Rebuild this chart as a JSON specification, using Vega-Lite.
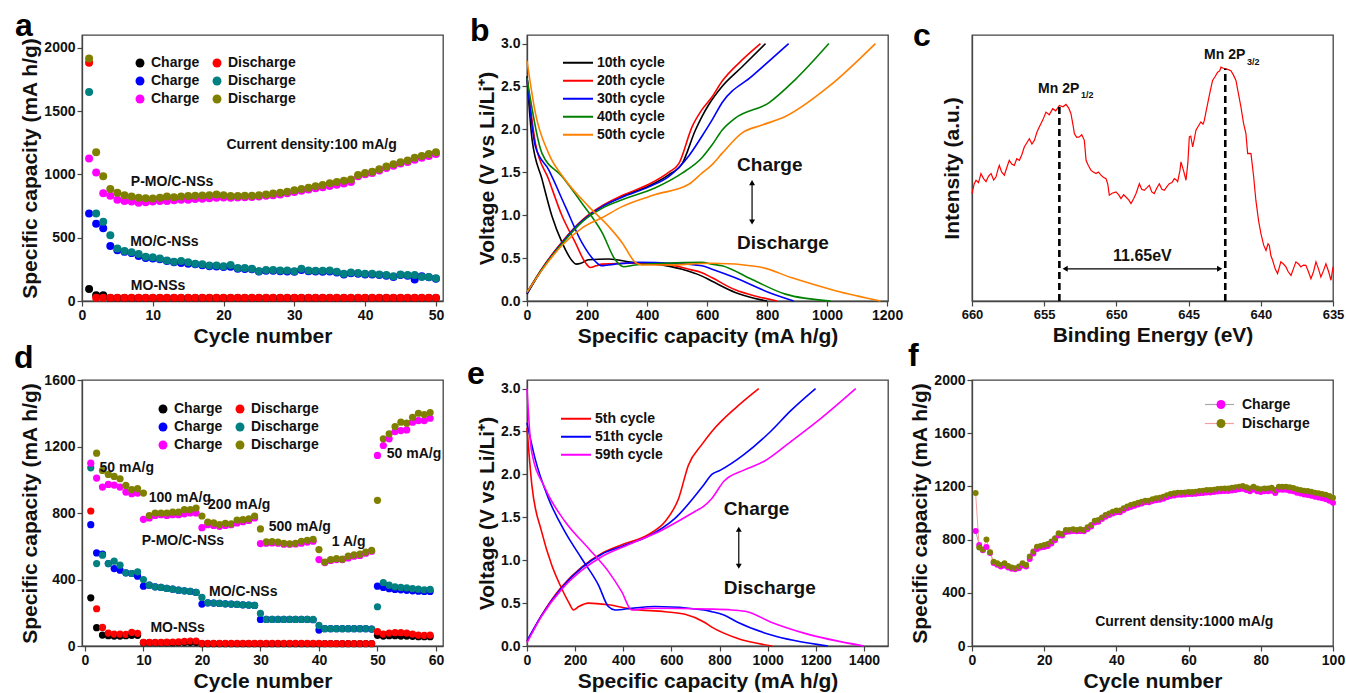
{
  "$schema": "https://vega.github.io/schema/vega-lite/v6.json",
  "background": "white",
  "padding": {"left": 13, "top": 9, "right": 5, "bottom": 0},
  "columns": 3,
  "spacing": {"row": 79, "column": 84},
  "bounds": "flush",
  "resolve": {"scale": {"color": "independent", "fill": "independent", "stroke": "independent", "shape": "independent"}, "legend": {"color": "independent", "fill": "independent", "stroke": "independent"}},
  "datasets": {
    "capA": [{
      "cyc": [1,2,3,4,5,6,7,8,9,10,11,12,13,14,15,16,17,18,19,20,21,22,23,24,25,26,27,28,29,30,31,32,33,34,35,36,37,38,39,40,41,42,43,44,45,46,47,48,49,50],
      "mo_c": [95,45,45,24,24,24,24,24,24,24,24,24,24,24,24,24,24,24,24,24,24,24,24,24,24,24,24,24,24,24,24,24,24,24,24,24,24,24,24,24,24,24,24,24,24,24,24,24,24,24],
      "mo_d": [1880,25,25,25,25,25,25,25,25,25,25,25,25,25,25,25,25,25,25,25,25,25,25,25,25,25,25,25,25,25,25,25,25,25,25,25,25,25,25,25,25,25,25,25,25,25,25,25,25,25],
      "moc_c": [690,610,575,435,400,388,378,355,340,335,330,315,305,300,295,290,282,275,272,268,270,255,252,250,232,238,238,235,232,230,245,235,232,230,232,225,210,220,215,210,210,205,200,190,205,200,170,195,188,175],
      "moc_d": [1650,690,625,520,415,395,385,372,350,345,335,320,310,315,305,295,290,280,280,275,285,260,260,255,235,245,245,240,240,235,255,240,238,238,240,230,215,225,222,215,215,210,205,195,210,205,205,190,190,180],
      "pmo_c": [1125,1015,850,830,800,790,785,775,780,785,790,790,795,800,800,805,808,812,815,818,815,818,820,822,825,830,835,840,850,860,870,880,890,898,908,918,928,940,985,1000,1010,1030,1050,1068,1085,1098,1115,1130,1145,1160],
      "pmo_d": [1915,1175,985,885,855,835,825,815,812,810,815,825,820,825,828,830,832,835,840,835,828,828,830,830,835,840,848,855,862,875,885,895,905,915,930,940,950,960,995,1010,1020,1040,1062,1080,1095,1110,1130,1145,1160,1175]
    }],
    "capD": [{
      "cyc": [1,2,3,4,5,6,7,8,9,10,11,12,13,14,15,16,17,18,19,20,21,22,23,24,25,26,27,28,29,30,31,32,33,34,35,36,37,38,39,40,41,42,43,44,45,46,47,48,49,50,51,52,53,54,55,56,57,58,59],
      "mo_c": [290,110,66,62,60,60,62,64,64,20,20,20,20,20,20,21,22,22,22,14,14,14,14,14,14,14,14,14,14,14,14,14,14,14,14,14,14,14,14,14,14,14,14,14,14,14,14,14,14,64,60,62,62,60,60,58,56,56,56],
      "mo_d": [812,224,112,78,72,72,70,82,76,22,22,22,22,23,24,25,28,30,30,16,16,16,16,16,16,16,16,16,16,16,16,16,16,16,16,16,16,16,16,16,15,15,15,15,15,15,15,15,15,86,72,78,80,80,78,72,66,64,66],
      "moc_c": [730,560,552,496,466,456,440,436,420,360,366,356,352,346,342,336,332,328,322,252,260,258,256,254,252,250,248,246,244,160,160,160,160,160,160,160,160,160,158,96,104,104,104,104,104,104,104,104,102,360,352,345,340,338,335,332,330,328,328],
      "moc_d": [1072,496,546,496,510,486,440,436,446,400,366,356,352,346,342,336,332,328,322,292,260,258,256,254,252,250,248,246,244,196,160,160,160,160,160,160,160,160,160,124,104,104,104,104,104,104,104,104,102,236,382,366,356,352,350,345,342,338,340],
      "pmo_c": [1100,1010,956,972,968,956,926,916,920,762,770,785,790,785,790,790,795,800,800,712,730,725,720,725,730,740,748,755,770,616,618,620,618,612,612,614,618,625,630,520,502,515,520,520,530,540,545,558,570,1146,1206,1246,1290,1296,1300,1346,1356,1356,1370],
      "pmo_d": [null,1160,1056,1032,1020,1006,966,940,946,920,785,800,800,800,805,805,820,820,830,782,745,740,730,738,735,758,760,765,782,704,626,628,625,618,615,618,630,636,642,580,505,520,525,522,540,548,552,565,575,876,1246,1276,1320,1346,1340,1376,1400,1392,1404]
    }],
    "capF": [{
      "cyc": [1,2,3,4,5,6,7,8,9,10,11,12,13,14,15,16,17,18,19,20,21,22,23,24,25,26,27,28,29,30,31,32,33,34,35,36,37,38,39,40,41,42,43,44,45,46,47,48,49,50,51,52,53,54,55,56,57,58,59,60,61,62,63,64,65,66,67,68,69,70,71,72,73,74,75,76,77,78,79,80,81,82,83,84,85,86,87,88,89,90,91,92,93,94,95,96,97,98,99,100],
      "ch": [865,760,720,745,700,625,610,598,605,590,580,578,585,605,598,655,695,730,740,745,752,770,795,830,830,858,860,865,862,865,862,880,898,928,935,955,972,985,997,1005,1005,1022,1035,1046,1055,1064,1072,1080,1080,1090,1096,1100,1108,1118,1127,1132,1137,1137,1139,1142,1142,1144,1148,1151,1155,1155,1157,1162,1164,1166,1166,1170,1173,1178,1182,1172,1164,1176,1164,1157,1163,1163,1168,1150,1174,1174,1174,1168,1163,1152,1146,1140,1136,1130,1122,1116,1110,1104,1093,1078],
      "dis": [1150,740,725,800,705,634,622,609,622,602,590,585,597,622,609,672,710,747,752,760,767,785,810,847,842,872,872,877,872,877,872,892,910,942,947,967,985,997,1010,1018,1018,1035,1048,1060,1068,1078,1085,1093,1093,1103,1110,1115,1123,1133,1143,1148,1153,1153,1155,1158,1158,1160,1165,1168,1173,1173,1175,1180,1183,1185,1185,1190,1193,1198,1203,1193,1185,1198,1185,1178,1185,1185,1190,1173,1198,1198,1198,1193,1188,1178,1173,1168,1165,1160,1153,1148,1143,1138,1128,1115]
    }],
    "vb": [
      {"c":"10th cycle","b":"d","x":[0,17,50,83,117,150,163,180,205,272,350,428,517,583,617,694,760,800],"y":[2.62,1.88,1.42,0.99,0.68,0.47,0.43,0.44,0.48,0.49,0.45,0.43,0.37,0.29,0.23,0.1,0.03,0]},
      {"c":"10th cycle","b":"c","x":[0,50,117,183,250,317,406,472,517,561,583,606,650,717,795],"y":[0.08,0.37,0.68,0.93,1.1,1.22,1.34,1.47,1.6,1.99,2.15,2.29,2.5,2.73,3.0]},
      {"c":"20th cycle","b":"d","x":[0,28,72,117,161,194,211,230,250,350,461,539,583,617,694,770,833],"y":[2.6,1.84,1.42,0.99,0.68,0.45,0.39,0.41,0.43,0.44,0.43,0.37,0.33,0.27,0.13,0.05,0]},
      {"c":"20th cycle","b":"c","x":[0,50,117,183,250,317,406,472,506,550,583,617,650,717,778],"y":[0.1,0.38,0.69,0.94,1.11,1.23,1.36,1.5,1.6,2.03,2.23,2.38,2.56,2.81,3.0]},
      {"c":"30th cycle","b":"d","x":[0,28,72,128,183,228,250,270,294,372,483,583,617,694,806,889],"y":[2.6,1.8,1.53,1.1,0.68,0.46,0.41,0.42,0.43,0.45,0.44,0.41,0.37,0.27,0.1,0]},
      {"c":"30th cycle","b":"c","x":[0,50,117,183,250,317,406,472,539,583,617,650,750,872],"y":[0.09,0.37,0.68,0.93,1.1,1.21,1.33,1.45,1.69,1.92,2.11,2.31,2.62,3.0]},
      {"c":"40th cycle","b":"d","x":[0,50,117,183,250,294,322,361,461,583,617,650,750,861,1012],"y":[2.6,1.72,1.45,1.14,0.8,0.48,0.4,0.42,0.44,0.45,0.43,0.41,0.25,0.08,0]},
      {"c":"40th cycle","b":"c","x":[0,50,117,183,250,317,428,517,583,617,650,694,806,894,1006],"y":[0.1,0.37,0.67,0.92,1.08,1.18,1.32,1.49,1.67,1.82,1.99,2.13,2.31,2.58,3.0]},
      {"c":"50th cycle","b":"d","x":[0,28,72,128,206,272,317,361,383,461,617,772,883,1028,1178],"y":[2.8,2.19,1.72,1.41,1.1,0.87,0.68,0.45,0.42,0.42,0.44,0.4,0.27,0.12,0]},
      {"c":"50th cycle","b":"c","x":[0,50,117,183,250,317,428,539,583,617,650,717,783,861,1006,1161],"y":[0.1,0.36,0.65,0.85,0.97,1.1,1.24,1.36,1.49,1.59,1.72,1.96,2.05,2.15,2.5,3.0]}
    ],
    "ve": [
      {"c":"5th cycle","b":"d","x":[0,20,61,103,144,175,193,215,255,338,435,574,657,735,768,873,1020],"y":[2.54,1.88,1.33,0.94,0.67,0.5,0.42,0.46,0.5,0.48,0.43,0.4,0.37,0.28,0.22,0.09,0]},
      {"c":"5th cycle","b":"c","x":[0,61,144,227,310,394,505,574,630,671,727,768,873,963],"y":[0.05,0.36,0.69,0.92,1.08,1.18,1.3,1.45,1.72,2.11,2.35,2.5,2.79,3.0]},
      {"c":"51th cycle","b":"d","x":[0,33,89,158,227,297,338,366,435,532,735,768,818,873,1012,1250],"y":[2.6,2.19,1.72,1.33,1.02,0.71,0.46,0.42,0.44,0.46,0.42,0.4,0.36,0.28,0.13,0]},
      {"c":"51th cycle","b":"c","x":[0,61,144,227,310,394,505,616,735,768,804,901,1012,1095,1199],"y":[0.06,0.36,0.68,0.91,1.07,1.16,1.28,1.49,1.88,2.0,2.05,2.23,2.5,2.74,3.0]},
      {"c":"59th cycle","b":"d","x":[0,19,75,158,255,338,394,435,505,768,850,915,1012,1151,1400],"y":[3.0,2.27,1.84,1.45,1.14,0.87,0.63,0.42,0.44,0.43,0.42,0.4,0.28,0.15,0]},
      {"c":"59th cycle","b":"c","x":[0,61,144,227,310,421,560,699,735,768,818,901,984,1095,1220,1366],"y":[0.04,0.35,0.66,0.88,1.04,1.18,1.35,1.57,1.63,1.72,1.92,2.05,2.15,2.38,2.65,3.0]}
    ],
    "xps": [{
      "be": [660,659.85,659.72,659.55,659.38,659.2,659.03,658.85,658.68,658.5,658.34,658.2,658.11,657.95,657.76,657.6,657.42,657.25,657.07,656.9,656.72,656.55,656.38,656.2,656.03,655.85,655.68,655.5,655.34,655.1,654.88,654.65,654.41,654.2,653.95,653.7,653.49,653.3,653.15,653,652.91,652.75,652.57,652.4,652.22,652.1,651.95,651.76,651.6,651.41,651.25,651.07,650.9,650.72,650.6,650.49,650.3,650.03,649.85,649.68,649.5,649.34,649.15,648.99,648.8,648.64,648.41,648.25,648.07,647.9,647.72,647.55,647.38,647.2,647.03,646.85,646.68,646.5,646.34,646.15,645.99,645.85,645.76,645.6,645.53,645.35,645.18,645.05,644.95,644.85,644.72,644.6,644.49,644.3,644.15,644,643.91,643.8,643.68,643.5,643.34,643.15,642.99,642.85,642.76,642.6,642.41,642.25,642.07,641.9,641.72,641.55,641.37,641.2,641.03,640.91,640.8,640.68,640.5,640.34,640.15,639.99,639.8,639.64,639.5,639.41,639.3,639.18,639,638.84,638.7,638.61,638.45,638.26,638.1,637.91,637.75,637.57,637.4,637.22,637.05,636.88,636.7,636.53,636.35,636.18,636,635.84,635.65,635.49,635.3,635.14,635],
      "i": [40.4,44,45.4,44.5,47.9,46,44.9,47,47.9,45.5,46.6,49.5,51,48.5,47.3,50,52.9,51.5,51,53.5,52.9,55,57.9,59.5,61,59,60.4,63.5,65.4,68,71,70,72.3,71.5,73.5,73,73.9,72.5,70.5,66,62.9,61.5,61.7,62.5,60.4,52.9,51,49.1,48.5,47.9,48.5,47.3,46.5,46,44,39.8,40.5,41,40,38.5,40,39.1,38,36.6,38.5,40.4,44.1,42,41.6,42.5,43.5,41,40.4,42.5,44.1,42,41.6,43,44.1,44.5,46,45.5,44.9,49,52.3,49,45.4,52,61.7,62,57.9,61,64.2,66,67.3,66.5,67.9,71,74.2,79,82.9,84.5,86,86.5,87.9,87.5,87.3,87,86.6,85,82.9,78,72.8,67,62.9,55.4,55.5,55.4,47,37.8,30,25.3,21,19,21.5,20.9,17,15.3,12,10.3,13,14.7,14,12.8,11,9.6,12,14.7,14,12.8,13.5,13.4,11,8.4,11,14.7,12,9,11.5,14,11,7.8,12.8]
    }]
  },
  "concat": [
    {
      "width": 361, "height": 266,
      "title": {"text": "a", "dx": -67, "offset": -8},
      "layer": [
        {
          "data": {"name": "capA"},
          "transform": [
            {"flatten": ["cyc","mo_c","mo_d","moc_c","moc_d","pmo_c","pmo_d"]},
            {"fold": ["mo_c","mo_d","moc_c","moc_d","pmo_c","pmo_d"], "as": ["s","v"]},
            {"filter": "isValid(datum.v)"}
          ],
          "mark": {"type": "point", "filled": true, "opacity": 1, "size": 64},
          "encoding": {
            "x": {"field": "cyc", "type": "quantitative", "scale": {"domain": [0, 51], "nice": false, "zero": false},
              "axis": {"title": "Cycle number", "values": [0,5,10,15,20,25,30,35,40,45,50], "labelExpr": "datum.value % 10 === 0 ? datum.label : ''", "tickSize": {"condition": {"test": "datum.value % 10 !== 0", "value": 3}, "value": 5}}},
            "y": {"field": "v", "type": "quantitative", "scale": {"domain": [0, 2100], "nice": false},
              "axis": {"title": "Specific capacity (mA h/g)", "format": "d", "values": [0,250,500,750,1000,1250,1500,1750,2000], "labelExpr": "datum.value % 500 === 0 ? datum.label : ''", "tickSize": {"condition": {"test": "datum.value % 500 !== 0", "value": 3}, "value": 5}}},
            "color": {"field": "s", "type": "nominal",
              "scale": {"domain": ["mo_c","moc_c","pmo_c","mo_d","moc_d","pmo_d"], "range": ["#000000","#0000ff","#ff00ff","#ff0000","#008080","#808000"]},
              "legend": {"title": null, "orient": "none", "legendX": 51, "legendY": 21, "columns": 2, "columnPadding": 10, "rowPadding": 4, "symbolType": "circle", "symbolSize": 80, "padding": 0,
                "labelExpr": "indexof(datum.value, '_c') >= 0 ? 'Charge' : 'Discharge'"}}
          }
        },
        {
          "data": {"values": [
            {"x": 20.4, "y": 1230, "t": "Current density:100 mA/g"},
            {"x": 6.9, "y": 939, "t": "P-MO/C-NSs"},
            {"x": 6.8, "y": 466, "t": "MO/C-NSs"},
            {"x": 6.9, "y": 118, "t": "MO-NSs"}
          ]},
          "mark": {"type": "text", "align": "left", "baseline": "middle"},
          "encoding": {"x": {"field": "x", "type": "quantitative"}, "y": {"field": "y", "type": "quantitative"}, "text": {"field": "t"}}
        }
      ]
    },
    {
      "width": 361, "height": 266,
      "title": {"text": "b", "dx": -57, "offset": -13},
      "layer": [
        {
          "data": {"name": "vb"},
          "transform": [{"flatten": ["x","y"]}],
          "mark": {"type": "line", "interpolate": "monotone", "strokeWidth": 1.6},
          "encoding": {
            "x": {"field": "x", "type": "quantitative", "scale": {"domain": [0, 1203], "nice": false},
              "axis": {"title": "Specific capacity (mA h/g)", "format": "d", "values": [0,100,200,300,400,500,600,700,800,900,1000,1100,1200], "labelExpr": "datum.value % 200 === 0 ? datum.label : ''", "tickSize": {"condition": {"test": "datum.value % 200 !== 0", "value": 3}, "value": 5}}},
            "y": {"field": "y", "type": "quantitative", "scale": {"domain": [0, 3.1], "nice": false},
              "axis": {"title": "Voltage (V vs Li/Li⁺)", "format": ".1f", "values": [0,0.25,0.5,0.75,1,1.25,1.5,1.75,2,2.25,2.5,2.75,3], "labelExpr": "datum.value % 0.5 === 0 ? datum.label : ''", "tickSize": {"condition": {"test": "datum.value % 0.5 !== 0", "value": 3}, "value": 5}}},
            "color": {"field": "c", "type": "nominal",
              "scale": {"domain": ["10th cycle","20th cycle","30th cycle","40th cycle","50th cycle"], "range": ["#000000","#ff0000","#0000ff","#008000","#ff8000"]},
              "legend": {"title": null, "orient": "none", "legendX": 35, "legendY": 19, "symbolType": "stroke", "symbolSize": 900, "symbolStrokeWidth": 2, "clipHeight": 17.7, "rowPadding": 0, "padding": 0, "labelOffset": 3}},
            "detail": {"field": "b"}
          }
        },
        {
          "data": {"values": [{"x": 700, "y": 1.59, "t": "Charge"}, {"x": 700, "y": 0.68, "t": "Discharge"}]},
          "mark": {"type": "text", "align": "left", "baseline": "middle", "fontSize": 19},
          "encoding": {"x": {"field": "x", "type": "quantitative"}, "y": {"field": "y", "type": "quantitative"}, "text": {"field": "t"}}
        },
        {
          "data": {"values": [{"x": 750, "y": 0.93, "y2": 1.37}]},
          "mark": {"type": "rule", "color": "#000", "strokeWidth": 1.2},
          "encoding": {"x": {"field": "x", "type": "quantitative"}, "y": {"field": "y", "type": "quantitative"}, "y2": {"field": "y2"}}
        },
        {
          "data": {"values": [{"x": 750, "y": 1.38, "sh": "triangle-up"}, {"x": 750, "y": 0.92, "sh": "triangle-down"}]},
          "mark": {"type": "point", "filled": true, "opacity": 1, "color": "#000", "size": 35},
          "encoding": {"x": {"field": "x", "type": "quantitative"}, "y": {"field": "y", "type": "quantitative"}, "shape": {"field": "sh", "type": "nominal", "scale": null, "legend": null}}
        }
      ]
    },
    {
      "width": 361, "height": 266,
      "title": {"text": "c", "dx": -59, "offset": -18},
      "layer": [
        {
          "data": {"name": "xps"},
          "transform": [{"flatten": ["be","i"]}],
          "mark": {"type": "line", "color": "#ff0000", "strokeWidth": 1.2},
          "encoding": {
            "x": {"field": "be", "type": "quantitative", "scale": {"domain": [635, 660], "reverse": true, "nice": false, "zero": false},
              "axis": {"title": "Binding Energy (eV)", "labelFontSize": 13, "values": [635,637.5,640,642.5,645,647.5,650,652.5,655,657.5,660], "labelExpr": "datum.value % 5 === 0 ? datum.label : ''", "tickSize": {"condition": {"test": "datum.value % 5 !== 0", "value": 3}, "value": 5}}},
            "y": {"field": "i", "type": "quantitative", "scale": {"domain": [0, 100], "nice": false},
              "axis": {"title": "Intensity (a.u.)", "labels": false, "ticks": false, "titlePadding": 10}}
          }
        },
        {
          "data": {"values": [{"x": 653.95, "y": 0, "y2": 73.5}, {"x": 642.46, "y": 0, "y2": 87.3}]},
          "mark": {"type": "rule", "color": "#000", "strokeWidth": 2.6, "strokeDash": [7, 4]},
          "encoding": {"x": {"field": "x", "type": "quantitative"}, "y": {"field": "y", "type": "quantitative"}, "y2": {"field": "y2"}}
        },
        {
          "data": {"values": [{"x": 653.5, "x2": 642.9, "y": 12.1}]},
          "mark": {"type": "rule", "color": "#000", "strokeWidth": 1.2},
          "encoding": {"x": {"field": "x", "type": "quantitative"}, "x2": {"field": "x2"}, "y": {"field": "y", "type": "quantitative"}}
        },
        {
          "data": {"values": [{"x": 653.55, "y": 12.1, "sh": "triangle-left"}, {"x": 642.85, "y": 12.1, "sh": "triangle-right"}]},
          "mark": {"type": "point", "filled": true, "opacity": 1, "color": "#000", "size": 35},
          "encoding": {"x": {"field": "x", "type": "quantitative"}, "y": {"field": "y", "type": "quantitative"}, "shape": {"field": "sh", "type": "nominal", "scale": null, "legend": null}}
        },
        {
          "data": {"values": [{"x": 652.57, "y": 79.8, "t": "Mn 2P"}, {"x": 641.07, "y": 92.4, "t": "Mn 2P"}]},
          "mark": {"type": "text", "align": "right", "baseline": "middle", "fontSize": 14},
          "encoding": {"x": {"field": "x", "type": "quantitative"}, "y": {"field": "y", "type": "quantitative"}, "text": {"field": "t"}}
        },
        {
          "data": {"values": [{"x": 652.45, "y": 77.3, "t": "1/2"}, {"x": 640.96, "y": 89.8, "t": "3/2"}]},
          "mark": {"type": "text", "align": "left", "baseline": "middle", "fontSize": 9},
          "encoding": {"x": {"field": "x", "type": "quantitative"}, "y": {"field": "y", "type": "quantitative"}, "text": {"field": "t"}}
        },
        {
          "data": {"values": [{"x": 648.2, "y": 16.8, "t": "11.65eV"}]},
          "mark": {"type": "text", "align": "center", "baseline": "middle", "fontSize": 16},
          "encoding": {"x": {"field": "x", "type": "quantitative"}, "y": {"field": "y", "type": "quantitative"}, "text": {"field": "t"}}
        }
      ]
    },
    {
      "width": 361, "height": 266,
      "title": {"text": "d", "dx": -68, "offset": -2},
      "layer": [
        {
          "data": {"name": "capD"},
          "transform": [
            {"flatten": ["cyc","mo_c","mo_d","moc_c","moc_d","pmo_c","pmo_d"]},
            {"fold": ["mo_c","mo_d","moc_c","moc_d","pmo_c","pmo_d"], "as": ["s","v"]},
            {"filter": "isValid(datum.v)"}
          ],
          "mark": {"type": "point", "filled": true, "opacity": 1, "size": 52},
          "encoding": {
            "x": {"field": "cyc", "type": "quantitative", "scale": {"domain": [-0.5, 61.2], "nice": false, "zero": false},
              "axis": {"title": "Cycle number", "values": [0,5,10,15,20,25,30,35,40,45,50,55,60], "labelExpr": "datum.value % 10 === 0 ? datum.label : ''", "tickSize": {"condition": {"test": "datum.value % 10 !== 0", "value": 3}, "value": 5}}},
            "y": {"field": "v", "type": "quantitative", "scale": {"domain": [0, 1600], "nice": false},
              "axis": {"title": "Specific capacity (mA h/g)", "format": "d", "values": [0,100,200,300,400,500,600,700,800,900,1000,1100,1200,1300,1400,1500,1600], "labelExpr": "datum.value % 200 === 0 ? datum.label : ''", "tickSize": {"condition": {"test": "datum.value % 200 !== 0", "value": 3}, "value": 5}}},
            "color": {"field": "s", "type": "nominal",
              "scale": {"domain": ["mo_c","moc_c","pmo_c","mo_d","moc_d","pmo_d"], "range": ["#000000","#0000ff","#ff00ff","#ff0000","#008080","#808000"]},
              "legend": {"title": null, "orient": "none", "legendX": 74, "legendY": 22, "columns": 2, "columnPadding": 10, "rowPadding": 4, "symbolType": "circle", "symbolSize": 80, "padding": 0,
                "labelExpr": "indexof(datum.value, '_c') >= 0 ? 'Charge' : 'Discharge'"}}
          }
        },
        {
          "data": {"values": [
            {"x": 2.5, "y": 1072, "t": "50 mA/g"},
            {"x": 10.9, "y": 892, "t": "100 mA/g"},
            {"x": 21.05, "y": 846, "t": "200 mA/g"},
            {"x": 31.4, "y": 716, "t": "500 mA/g"},
            {"x": 42.2, "y": 626, "t": "1 A/g"},
            {"x": 51.6, "y": 1152, "t": "50 mA/g"},
            {"x": 9.7, "y": 632, "t": "P-MO/C-NSs"},
            {"x": 21.2, "y": 326, "t": "MO/C-NSs"},
            {"x": 11.2, "y": 106, "t": "MO-NSs"}
          ]},
          "mark": {"type": "text", "align": "left", "baseline": "middle"},
          "encoding": {"x": {"field": "x", "type": "quantitative"}, "y": {"field": "y", "type": "quantitative"}, "text": {"field": "t"}}
        }
      ]
    },
    {
      "width": 361, "height": 266,
      "title": {"text": "e", "dx": -60, "offset": -11},
      "layer": [
        {
          "data": {"name": "ve"},
          "transform": [{"flatten": ["x","y"]}],
          "mark": {"type": "line", "interpolate": "monotone", "strokeWidth": 1.6},
          "encoding": {
            "x": {"field": "x", "type": "quantitative", "scale": {"domain": [0, 1500], "nice": false},
              "axis": {"title": "Specific capacity (mA h/g)", "format": "d", "values": [0,100,200,300,400,500,600,700,800,900,1000,1100,1200,1300,1400,1500], "labelExpr": "datum.value % 200 === 0 ? datum.label : ''", "tickSize": {"condition": {"test": "datum.value % 200 !== 0", "value": 3}, "value": 5}}},
            "y": {"field": "y", "type": "quantitative", "scale": {"domain": [0, 3.1], "nice": false},
              "axis": {"title": "Voltage (V vs Li/Li⁺)", "format": ".1f", "values": [0,0.25,0.5,0.75,1,1.25,1.5,1.75,2,2.25,2.5,2.75,3], "labelExpr": "datum.value % 0.5 === 0 ? datum.label : ''", "tickSize": {"condition": {"test": "datum.value % 0.5 !== 0", "value": 3}, "value": 5}}},
            "color": {"field": "c", "type": "nominal",
              "scale": {"domain": ["5th cycle","51th cycle","59th cycle"], "range": ["#ff0000","#0000ff","#ff00ff"]},
              "legend": {"title": null, "orient": "none", "legendX": 33, "legendY": 30, "symbolType": "stroke", "symbolSize": 900, "symbolStrokeWidth": 2, "clipHeight": 17.7, "rowPadding": 0, "padding": 0, "labelOffset": 3}},
            "detail": {"field": "b"}
          }
        },
        {
          "data": {"values": [{"x": 818, "y": 1.6, "t": "Charge"}, {"x": 818, "y": 0.68, "t": "Discharge"}]},
          "mark": {"type": "text", "align": "left", "baseline": "middle", "fontSize": 19},
          "encoding": {"x": {"field": "x", "type": "quantitative"}, "y": {"field": "y", "type": "quantitative"}, "text": {"field": "t"}}
        },
        {
          "data": {"values": [{"x": 880, "y": 0.94, "y2": 1.35}]},
          "mark": {"type": "rule", "color": "#000", "strokeWidth": 1.2},
          "encoding": {"x": {"field": "x", "type": "quantitative"}, "y": {"field": "y", "type": "quantitative"}, "y2": {"field": "y2"}}
        },
        {
          "data": {"values": [{"x": 880, "y": 1.36, "sh": "triangle-up"}, {"x": 880, "y": 0.93, "sh": "triangle-down"}]},
          "mark": {"type": "point", "filled": true, "opacity": 1, "color": "#000", "size": 35},
          "encoding": {"x": {"field": "x", "type": "quantitative"}, "y": {"field": "y", "type": "quantitative"}, "shape": {"field": "sh", "type": "nominal", "scale": null, "legend": null}}
        }
      ]
    },
    {
      "width": 361, "height": 266,
      "title": {"text": "f", "dx": -64, "offset": 0},
      "layer": [
        {
          "data": {"name": "capF"},
          "transform": [
            {"flatten": ["cyc","ch","dis"]},
            {"fold": ["ch","dis"], "as": ["ls","v"]}
          ],
          "mark": {"type": "line", "strokeWidth": 1},
          "encoding": {
            "x": {"field": "cyc", "type": "quantitative", "scale": {"domain": [0, 100], "nice": false},
              "axis": {"title": "Cycle number", "values": [0,10,20,30,40,50,60,70,80,90,100], "labelExpr": "datum.value % 20 === 0 ? datum.label : ''", "tickSize": {"condition": {"test": "datum.value % 20 !== 0", "value": 3}, "value": 5}}},
            "y": {"field": "v", "type": "quantitative", "scale": {"domain": [0, 2000], "nice": false},
              "axis": {"title": "Specific capacity (mA h/g)", "format": "d", "values": [0,100,200,300,400,500,600,700,800,900,1000,1100,1200,1300,1400,1500,1600,1700,1800,1900,2000], "labelExpr": "datum.value % 200 === 0 ? datum.label : ''", "tickSize": {"condition": {"test": "datum.value % 200 !== 0", "value": 3}, "value": 5}}},
            "stroke": {"field": "ls", "type": "nominal", "scale": {"domain": ["ch","dis","none"], "range": ["#a8a8a8","#f4a0a0","#ffffff"]},
              "legend": {"title": null, "orient": "none", "values": ["ch","dis"], "legendX": 232, "legendY": 15, "symbolType": "stroke", "symbolSize": 841, "symbolStrokeWidth": 1.2, "clipHeight": 19, "rowPadding": 0, "padding": 0, "labelExpr": "''"}}
          }
        },
        {
          "data": {"name": "capF"},
          "transform": [
            {"flatten": ["cyc","ch","dis"]},
            {"fold": ["ch","dis"], "as": ["s","v"]}
          ],
          "mark": {"type": "point", "filled": true, "opacity": 1, "size": 36},
          "encoding": {
            "x": {"field": "cyc", "type": "quantitative"},
            "y": {"field": "v", "type": "quantitative"},
            "color": {"field": "s", "type": "nominal", "scale": {"domain": ["ch","dis"], "range": ["#ff00ff","#808000"]},
              "legend": {"title": null, "orient": "none", "legendX": 242, "legendY": 15, "clipHeight": 19, "rowPadding": 0, "symbolType": "circle", "symbolSize": 80, "padding": 0, "labelOffset": 14,
                "labelExpr": "datum.value === 'ch' ? 'Charge' : 'Discharge'"}}
          }
        },
        {
          "data": {"values": [{"x": 58.8, "y": 183, "t": "Current density:1000 mA/g"}]},
          "mark": {"type": "text", "align": "center", "baseline": "middle"},
          "encoding": {"x": {"field": "x", "type": "quantitative"}, "y": {"field": "y", "type": "quantitative"}, "text": {"field": "t"}}
        }
      ]
    }
  ],
  "config": {
    "font": "Liberation Sans",
    "view": {"stroke": "#444", "strokeWidth": 1.3},
    "axis": {"grid": false, "domainColor": "#444", "domainWidth": 1.3, "tickColor": "#444", "tickWidth": 1.2, "tickSize": 5,
      "labelFont": "Liberation Sans", "labelFontSize": 14, "labelFontWeight": "bold", "labelColor": "#111", "labelPadding": 2, "labelFlush": false, "labelOverlap": false,
      "titleFont": "Liberation Sans", "titleFontSize": 21, "titleFontWeight": "bold", "titleColor": "#111", "titlePadding": 3},
    "legend": {"labelFont": "Liberation Sans", "labelFontSize": 14, "labelFontWeight": "bold", "labelColor": "#111"},
    "title": {"font": "Liberation Sans", "fontSize": 32, "fontWeight": "bold", "anchor": "start", "frame": "group", "baseline": "alphabetic", "color": "#000"},
    "text": {"font": "Liberation Sans", "fontWeight": "bold", "fontSize": 14, "color": "#111"}
  }
}
